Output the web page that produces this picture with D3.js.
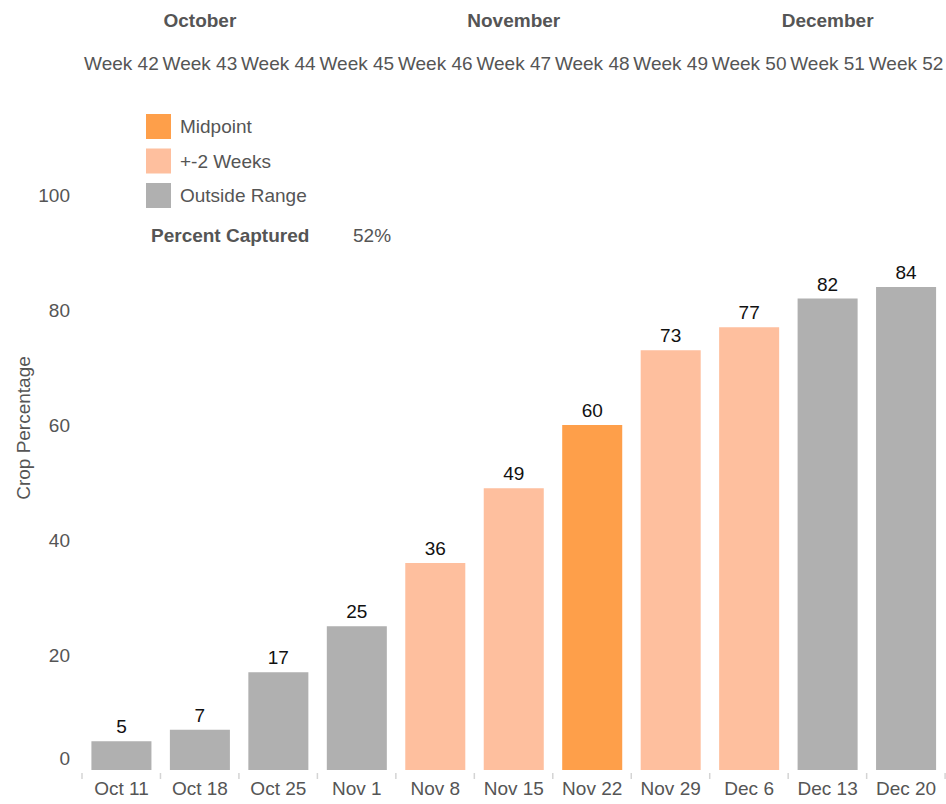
<!DOCTYPE html>
<html>
<head>
<meta charset="utf-8">
<script src="https://cdn.jsdelivr.net/npm/d3@7"></script>
<style>
  body { margin: 0; background: #fff; }
  svg { display: block; font-family: "Liberation Sans", Arial, sans-serif; }
</style>
</head>
<body>
<div id="chart"></div>
<script>
const dates = ["Oct 11", "Oct 18", "Oct 25", "Nov 1", "Nov 8", "Nov 15", "Nov 22", "Nov 29", "Dec 6", "Dec 13", "Dec 20"];
const weeks = ["Week 42", "Week 43", "Week 44", "Week 45", "Week 46", "Week 47", "Week 48", "Week 49", "Week 50", "Week 51", "Week 52"];
const values = [5, 7, 17, 25, 36, 49, 60, 73, 77, 82, 84];
const groups = ["Outside Range", "Outside Range", "Outside Range", "Outside Range", "+-2 Weeks", "+-2 Weeks", "Midpoint", "+-2 Weeks", "+-2 Weeks", "Outside Range", "Outside Range"];
const months = [{ name: "October", at: "Oct 18" }, { name: "November", at: "Nov 15" }, { name: "December", at: "Dec 13" }];
const legendItems = ["Midpoint", "+-2 Weeks", "Outside Range"];
const yTicks = [0, 20, 40, 60, 80, 100];
const percentCaptured = "52%";

const width = 946, height = 804;
const textColor = "#555";
const color = d3.scaleOrdinal()
  .domain(legendItems)
  .range(["#fe9f4a", "#febf9e", "#b0b0b0"]);

const svg = d3.select("#chart").append("svg")
  .attr("width", width).attr("height", height);

const x = d3.scaleBand()
  .domain(dates)
  .range([82, 945.5])
  .paddingInner(0.235)
  .paddingOuter(0.12);

const y = d3.scaleLinear()
  .domain([0, 100])
  .range([770, 195]);

// Month headers
svg.append("g").selectAll("text")
  .data(months)
  .join("text")
  .attr("x", d => x(d.at) + x.bandwidth() / 2)
  .attr("y", 27)
  .attr("text-anchor", "middle")
  .attr("font-size", "19px")
  .attr("font-weight", "bold")
  .attr("fill", textColor)
  .text(d => d.name);

// Week headers
svg.append("g").selectAll("text")
  .data(weeks)
  .join("text")
  .attr("x", (d, i) => x(dates[i]) + x.bandwidth() / 2)
  .attr("y", 70)
  .attr("text-anchor", "middle")
  .attr("font-size", "19px")
  .attr("fill", textColor)
  .text(d => d);

// Bars
svg.append("g").selectAll("rect")
  .data(values)
  .join("rect")
  .attr("x", (d, i) => x(dates[i]))
  .attr("y", d => y(d))
  .attr("width", x.bandwidth())
  .attr("height", d => y(0) - y(d))
  .attr("fill", (d, i) => color(groups[i]));

// Value labels
svg.append("g").selectAll("text")
  .data(values)
  .join("text")
  .attr("x", (d, i) => x(dates[i]) + x.bandwidth() / 2)
  .attr("y", d => y(d) - 8)
  .attr("text-anchor", "middle")
  .attr("font-size", "19px")
  .attr("fill", "#111")
  .text(d => d);

// Y axis
const yAxis = svg.append("g")
  .attr("transform", "translate(70,0)")
  .call(d3.axisLeft(y).tickValues(yTicks).tickSize(0).tickPadding(0));
yAxis.select(".domain").remove();
yAxis.selectAll("text")
  .attr("font-size", "19px")
  .attr("fill", textColor)
  .attr("font-family", "inherit")
  .attr("dy", d => d === 0 ? "-0.3em" : "0.33em");

// Y title
svg.append("text")
  .attr("transform", "translate(30,428) rotate(-90)")
  .attr("text-anchor", "middle")
  .attr("font-size", "19px")
  .attr("fill", textColor)
  .text("Crop Percentage");

// X axis
const xAxis = svg.append("g")
  .attr("transform", "translate(0,773)")
  .call(d3.axisBottom(x).tickSize(0).tickPadding(9));
xAxis.select(".domain").remove();
xAxis.selectAll("text")
  .attr("font-size", "19px")
  .attr("fill", textColor)
  .attr("font-family", "inherit");

// Small separator ticks between categories
const step = x.step();
const bounds = d3.range(dates.length + 1).map(i => x.range()[0] + i * step);
svg.append("g").selectAll("line")
  .data(bounds)
  .join("line")
  .attr("x1", d => d).attr("x2", d => d)
  .attr("y1", 773).attr("y2", 779)
  .attr("stroke", "#d4d4d4")
  .attr("stroke-width", 1.5);

// Legend
const legend = svg.append("g").attr("transform", "translate(146,114)");
legendItems.forEach((d, i) => {
  const row = legend.append("g").attr("transform", `translate(0,${i * 34.5})`);
  row.append("rect")
    .attr("width", 25).attr("height", 25)
    .attr("fill", color(d));
  row.append("text")
    .attr("x", 34).attr("y", 19)
    .attr("font-size", "19px")
    .attr("fill", textColor)
    .text(d);
});

svg.append("text")
  .attr("x", 151).attr("y", 242)
  .attr("font-size", "19px")
  .attr("font-weight", "bold")
  .attr("fill", textColor)
  .text("Percent Captured");
svg.append("text")
  .attr("x", 353).attr("y", 242)
  .attr("font-size", "19px")
  .attr("fill", textColor)
  .text(percentCaptured);
</script>
</body>
</html>
